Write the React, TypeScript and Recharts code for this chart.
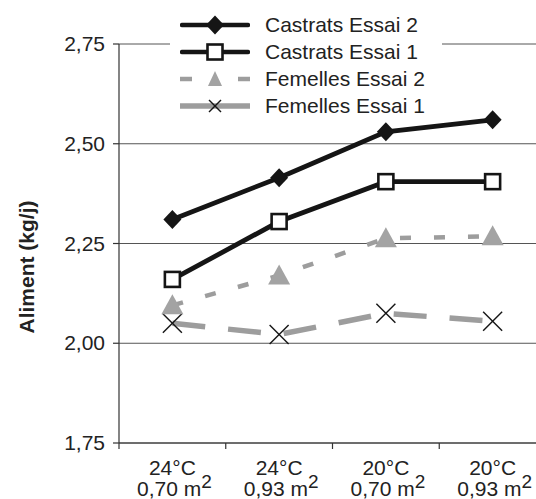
import React from 'react';
import { LineChart, Line, XAxis, YAxis, CartesianGrid } from 'recharts';

const categoriesTemp = ['24°C', '24°C', '20°C', '20°C'];
const categoriesArea = ['0,70', '0,93', '0,70', '0,93'];
const castratsEssai2 = [2.31, 2.415, 2.53, 2.56];
const castratsEssai1 = [2.16, 2.305, 2.405, 2.405];
const femellesEssai2 = [2.095, 2.17, 2.263, 2.268];
const femellesEssai1 = [2.05, 2.022, 2.075, 2.055];
const yTicks = [1.75, 2.0, 2.25, 2.5, 2.75];
const seriesNames = ['Castrats Essai 2', 'Castrats Essai 1', 'Femelles Essai 2', 'Femelles Essai 1'];

const data = categoriesTemp.map((t, i) => ({
  x: i + 0.5,
  temp: t,
  area: categoriesArea[i],
  c2: castratsEssai2[i],
  c1: castratsEssai1[i],
  f2: femellesEssai2[i],
  f1: femellesEssai1[i],
}));

const xTicks: number[] = [];
for (let i = 0; i <= categoriesTemp.length; i++) {
  xTicks.push(i);
  if (i < categoriesTemp.length) xTicks.push(i + 0.5);
}

const FONT = 'Liberation Sans, Arial, Helvetica, sans-serif';
const TXT = '#222';
const GRAY = '#9d9d9d';
const FS = 21;

const Diamond = ({ cx, cy }: any) => (
  <path d={`M${cx},${cy - 9.5}L${cx + 9},${cy}L${cx},${cy + 9.5}L${cx - 9},${cy}Z`} fill="#151515" />
);
const Square = ({ cx, cy }: any) => (
  <rect x={cx - 7.5} y={cy - 7.5} width={15} height={15} fill="#fff" stroke="#151515" strokeWidth={2.6} />
);
const Triangle = ({ cx, cy }: any) => (
  <path d={`M${cx},${cy - 11}L${cx + 11},${cy + 9}L${cx - 11},${cy + 9}Z`} fill="#a3a3a3" />
);
const Cross = ({ cx, cy }: any) => (
  <g stroke="#151515" strokeWidth={1.4}>
    <line x1={cx - 9.5} y1={cy - 9.5} x2={cx + 9.5} y2={cy + 9.5} />
    <line x1={cx - 9.5} y1={cy + 9.5} x2={cx + 9.5} y2={cy - 9.5} />
  </g>
);

const XTick = (props: any) => {
  const { x, payload } = props;
  const v = payload.value;
  if (Number.isInteger(v)) {
    return <line x1={x} y1={443} x2={x} y2={449} stroke="#333" strokeWidth={1.2} />;
  }
  const i = Math.floor(v);
  return (
    <g>
      <text x={x} y={475} textAnchor="middle" fontSize={FS} fontFamily={FONT} fill={TXT}>
        {categoriesTemp[i]}
      </text>
      <text x={x + 2} y={496} textAnchor="middle" fontSize={FS} fontFamily={FONT} fill={TXT}>
        {categoriesArea[i] + ' m'}
        <tspan dy={-8} fontSize={19}>2</tspan>
      </text>
    </g>
  );
};

const YTick = (props: any) => {
  const { x, y, payload } = props;
  return (
    <text x={x} y={y + 7} textAnchor="end" fontSize={FS} fontFamily={FONT} fill={TXT}>
      {payload.value.toFixed(2).replace('.', ',')}
    </text>
  );
};

const legendIcons = [
  (
    <svg width={70} height={26} key="a">
      <line x1={2} y1={13} x2={68} y2={13} stroke="#151515" strokeWidth={4.5} strokeLinecap="round" />
      <Diamond cx={35} cy={13} />
    </svg>
  ),
  (
    <svg width={70} height={26} key="b">
      <line x1={2} y1={13} x2={68} y2={13} stroke="#151515" strokeWidth={4.5} strokeLinecap="round" />
      <Square cx={35} cy={13} />
    </svg>
  ),
  (
    <svg width={70} height={26} key="c">
      <line x1={0} y1={13} x2={12} y2={13} stroke={GRAY} strokeWidth={4.5} />
      <line x1={58} y1={13} x2={70} y2={13} stroke={GRAY} strokeWidth={4.5} />
      <path d="M35,5L42,20L28,20Z" fill="#a3a3a3" />
    </svg>
  ),
  (
    <svg width={70} height={26} key="d">
      <line x1={0} y1={13} x2={70} y2={13} stroke={GRAY} strokeWidth={5.5} />
      <g stroke="#151515" strokeWidth={1.4}>
        <line x1={29} y1={7} x2={41} y2={19} />
        <line x1={29} y1={19} x2={41} y2={7} />
      </g>
    </svg>
  ),
];

export default function App() {
  return (
    <div style={{ position: 'absolute', left: 0, top: 0, width: 536, height: 499, overflow: 'hidden', background: '#fff' }}>
      <LineChart width={560} height={499} data={data} margin={{ top: 44, right: 14, bottom: 0, left: 59 }}>
        <CartesianGrid vertical={false} stroke="#555" strokeWidth={1} />
        <XAxis
          type="number"
          dataKey="x"
          domain={[0, categoriesTemp.length]}
          ticks={xTicks}
          interval={0}
          tickLine={false}
          axisLine={{ stroke: '#333', strokeWidth: 1.2 }}
          tick={<XTick />}
          height={56}
        />
        <YAxis
          domain={[1.75, 2.75]}
          ticks={yTicks}
          interval={0}
          width={60}
          tickSize={6}
          tickMargin={8}
          tickLine={{ stroke: '#333', strokeWidth: 1.2 }}
          axisLine={{ stroke: '#333', strokeWidth: 1.2 }}
          tick={<YTick />}
          label={{
            content: () => (
              <text
                x={26}
                y={267}
                transform="rotate(-90 26 267)"
                textAnchor="middle"
                dominantBaseline="central"
                fontSize={FS}
                fontWeight="bold"
                fontFamily={FONT}
                fill={TXT}
              >
                Aliment (kg/j)
              </text>
            ),
          }}
        />
        <Line
          dataKey="f1"
          name={seriesNames[3]}
          stroke={GRAY}
          strokeWidth={5.5}
          strokeDasharray="33 23"
          isAnimationActive={false}
          dot={(p: any) => <Cross key={p.index} cx={p.cx} cy={p.cy} />}
          activeDot={false}
        />
        <Line
          dataKey="f2"
          name={seriesNames[2]}
          stroke={GRAY}
          strokeWidth={4.5}
          strokeDasharray="11 23"
          isAnimationActive={false}
          dot={(p: any) => <Triangle key={p.index} cx={p.cx} cy={p.cy} />}
          activeDot={false}
        />
        <Line
          dataKey="c1"
          name={seriesNames[1]}
          stroke="#151515"
          strokeWidth={4.8}
          isAnimationActive={false}
          dot={(p: any) => <Square key={p.index} cx={p.cx} cy={p.cy} />}
          activeDot={false}
        />
        <Line
          dataKey="c2"
          name={seriesNames[0]}
          stroke="#151515"
          strokeWidth={4.8}
          isAnimationActive={false}
          dot={(p: any) => <Diamond key={p.index} cx={p.cx} cy={p.cy} />}
          activeDot={false}
        />
      </LineChart>
      <div style={{ position: 'absolute', top: 11, left: 170, width: 262, padding: '0 0 0 10px', background: '#fff' }}>
        {seriesNames.map((n, i) => (
          <div key={n} style={{ display: 'flex', alignItems: 'center', height: 27 }}>
            {legendIcons[i]}
            <span style={{ marginLeft: 15, fontSize: FS, fontFamily: FONT, color: TXT, lineHeight: '27px', whiteSpace: 'nowrap' }}>{n}</span>
          </div>
        ))}
      </div>
    </div>
  );
}
